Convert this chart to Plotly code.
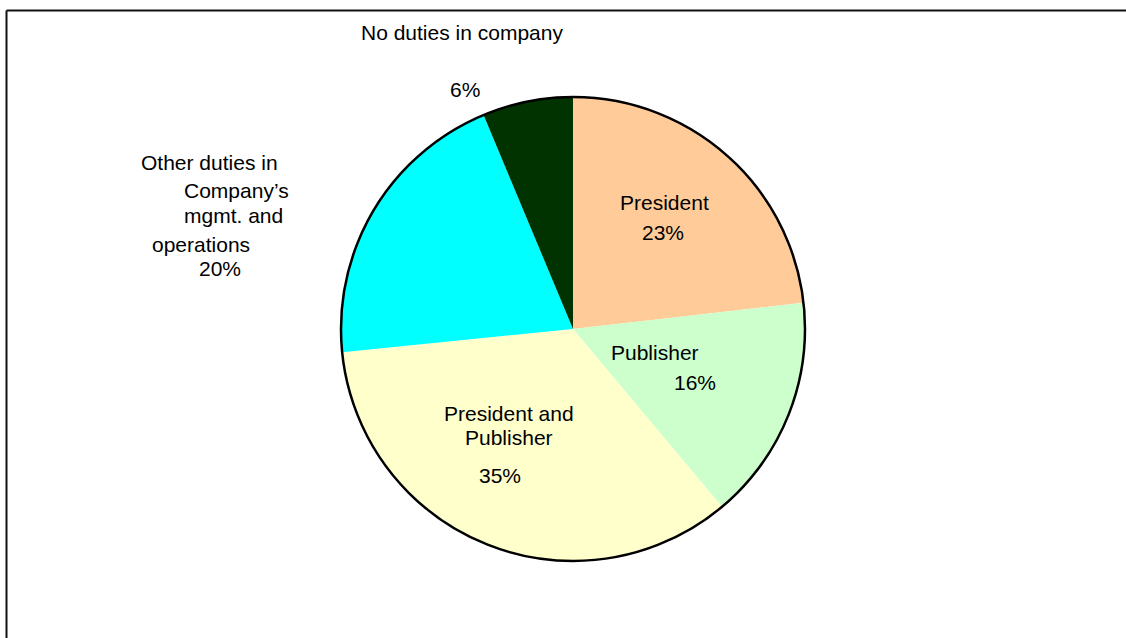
import plotly.graph_objects as go

W, H = 1126, 638

# Data (clockwise from 12 o'clock)
categories = ["President", "Publisher", "President and Publisher",
              "Other duties in Company's mgmt. and operations", "No duties in company"]
values = [23.2, 15.7, 34.5, 20.3, 6.3]
pct_labels = ["23%", "16%", "35%", "20%", "6%"]
colors = ["#FFCC99", "#CCFFCC", "#FFFFCC", "#00FFFF", "#003300"]

# Label text lines and their pixel positions (centre)
label_lines = [
    ("President", 664, 203), (pct_labels[0], 663, 232),
    ("Publisher", 655, 353), (pct_labels[1], 695, 382),
    ("President and", 509, 413), ("Publisher", 509, 437), (pct_labels[2], 500, 475),
    ("Other duties in", 209, 162), ("Company\u2019s", 236, 190), ("mgmt. and", 233, 215),
    ("operations", 201, 245), (pct_labels[3], 220, 268),
    ("No duties in company", 462, 33), (pct_labels[4], 465, 90),
]

cx, cy, r = 573, 329, 232
dom_x = [(cx - r) / W, (cx + r) / W]
dom_y = [1 - (cy + r) / H, 1 - (cy - r) / H]

fig = go.Figure()
fig.add_trace(go.Pie(
    labels=categories, values=values, sort=False, direction="clockwise", rotation=0,
    marker=dict(colors=colors, line=dict(width=0)),
    textinfo="none", textposition="none", showlegend=False,
    domain=dict(x=dom_x, y=dom_y),
))
# outer black outline
fig.add_trace(go.Pie(
    labels=["outline"], values=[1], sort=False,
    marker=dict(colors=["rgba(0,0,0,0)"], line=dict(color="black", width=2.5)),
    textinfo="none", textposition="none", showlegend=False, hoverinfo="skip",
    domain=dict(x=dom_x, y=dom_y),
))

for txt, px, py in label_lines:
    fig.add_annotation(text=txt, x=px / W, y=1 - py / H, xref="paper", yref="paper",
                       xanchor="center", yanchor="middle", showarrow=False,
                       font=dict(family="Liberation Sans, Arial, sans-serif", size=21, color="black"))

# frame lines (top and left)
fig.add_shape(type="line", xref="paper", yref="paper", x0=6.5 / W, x1=1.0,
              y0=1 - 10.5 / H, y1=1 - 10.5 / H, line=dict(color="#111", width=2))
fig.add_shape(type="line", xref="paper", yref="paper", x0=6.5 / W, x1=6.5 / W,
              y0=1 - 10.5 / H, y1=0, line=dict(color="#111", width=2))

fig.update_layout(width=W, height=H, margin=dict(l=0, r=0, t=0, b=0),
                  paper_bgcolor="white", plot_bgcolor="white")
fig.write_html("out.html")
